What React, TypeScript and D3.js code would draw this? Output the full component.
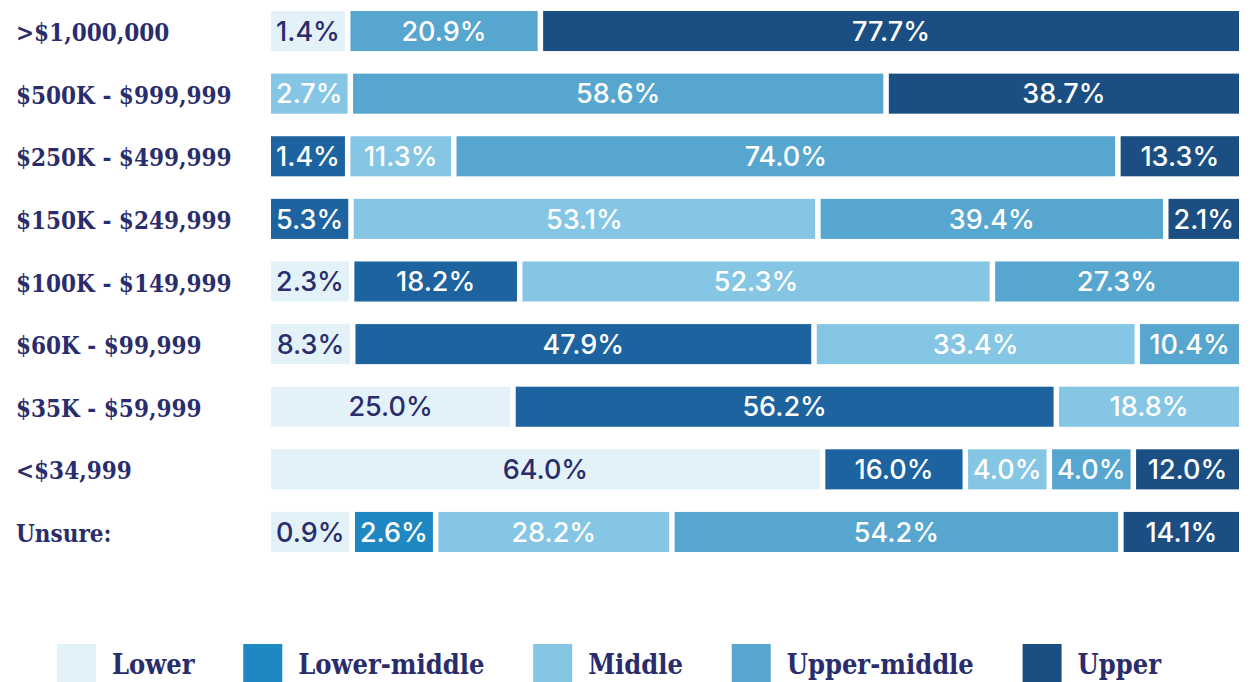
import { useEffect, useRef } from 'react'
import * as d3 from 'd3'

const CATEGORIES = [
  '>$1,000,000',
  '$500K - $999,999',
  '$250K - $499,999',
  '$150K - $249,999',
  '$100K - $149,999',
  '$60K - $99,999',
  '$35K - $59,999',
  '<$34,999',
  'Unsure:',
]

const SERIES = ['Lower', 'Lower-middle', 'Middle', 'Upper-middle', 'Upper']

const LOWER = [1.4, 0, 0, 0, 2.3, 8.3, 25.0, 64.0, 0.9]
const LOWER_MIDDLE = [0, 0, 1.4, 5.3, 18.2, 47.9, 56.2, 16.0, 2.6]
const MIDDLE = [0, 2.7, 11.3, 53.1, 52.3, 33.4, 18.8, 4.0, 28.2]
const UPPER_MIDDLE = [20.9, 58.6, 74.0, 39.4, 27.3, 10.4, 0, 4.0, 54.2]
const UPPER = [77.7, 38.7, 13.3, 2.1, 0, 0, 0, 12.0, 14.1]

const VALUES = [LOWER, LOWER_MIDDLE, MIDDLE, UPPER_MIDDLE, UPPER]

const BAR_COLORS = ['#e3f2f9', '#1c63a0', '#86c6e5', '#56a6cf', '#1b4f83']
const SWATCH_COLORS = ['#e3f2f9', '#1e88c2', '#86c6e5', '#56a6cf', '#1b4f83']
// this row was drawn with the legend's lighter lower-middle
const SWATCH_ROWS = ['Unsure:']

const NAVY = '#2a2d6c'
const SERIF = "'DejaVu Serif Condensed', 'DejaVu Serif', serif"
const SANS = "Inter, 'Open Sans', sans-serif"

export default function App() {
  const ref = useRef<SVGSVGElement>(null)

  useEffect(() => {
    if (!ref.current) return
    document.body.style.margin = '0'
    const svg = d3.select(ref.current)
    svg.selectAll('*').remove()

    const x = d3.scaleLinear().domain([0, 100]).range([271, 1239])
    const y = d3.scaleBand().domain(CATEGORIES).range([11, 552]).paddingInner(0.36)
    const gap = 5.5
    const pad = 5
    const fontSize = 27

    CATEGORIES.forEach((cat, i) => {
      const top = y(cat) ?? 0
      const mid = top + y.bandwidth() / 2
      const colors = SWATCH_ROWS.includes(cat) ? SWATCH_COLORS : BAR_COLORS

      svg
        .append('text')
        .attr('x', 16)
        .attr('y', mid + 10)
        .attr('fill', NAVY)
        .attr('font-family', SERIF)
        .attr('font-stretch', 'condensed')
        .attr('font-weight', 700)
        .attr('font-size', 24)
        .text(cat)

      const segs = VALUES.map((vals, j) => ({ j, v: vals[i] })).filter((d) => d.v > 0)
      const g = svg.append('g')

      const labels = g
        .selectAll('text')
        .data(segs)
        .join('text')
        .attr('text-anchor', 'middle')
        .attr('y', mid + fontSize * 0.36)
        .attr('fill', (d) => (d.j === 0 ? NAVY : '#ffffff'))
        .attr('font-family', SANS)
        .attr('font-weight', 500)
        .attr('font-size', fontSize)
        .text((d) => `${d.v.toFixed(1)}%`)

      // small shares get at least room for their label, the rest share what is left
      const mins = (labels.nodes() as SVGTextElement[]).map((n) => n.getComputedTextLength() + pad * 2)
      const avail = x(100) - x(0) - gap * (segs.length - 1)
      const fixed = segs.map(() => false)
      let rowScale = d3.scaleLinear().domain([0, 100]).range([0, avail])
      for (let it = 0; it < segs.length; it++) {
        const freeSum = d3.sum(segs, (d, k) => (fixed[k] ? 0 : d.v))
        const fixedW = d3.sum(mins, (m, k) => (fixed[k] ? m : 0))
        rowScale = d3.scaleLinear().domain([0, freeSum]).range([0, avail - fixedW])
        let changed = false
        segs.forEach((d, k) => {
          if (!fixed[k] && rowScale(d.v) < mins[k]) {
            fixed[k] = true
            changed = true
          }
        })
        if (!changed) break
      }
      const widths = segs.map((d, k) => (fixed[k] ? mins[k] : rowScale(d.v)))
      let cursor = x(0)
      const lefts = widths.map((w) => {
        const l = cursor
        cursor += w + gap
        return l
      })

      g.selectAll('rect')
        .data(segs)
        .join((enter) => enter.insert('rect', 'text'))
        .attr('x', (_, k) => lefts[k])
        .attr('y', top)
        .attr('width', (_, k) => widths[k])
        .attr('height', y.bandwidth())
        .attr('fill', (d) => colors[d.j])

      labels.attr('x', (_, k) => lefts[k] + widths[k] / 2)
    })

    // legend, spread between the first swatch and the end of the last label
    const legend = svg.append('g')
    const sw = 39
    const swTop = 644
    const items = SERIES.map((s, j) => {
      const item = legend.append('g')
      item
        .append('rect')
        .attr('width', sw)
        .attr('height', sw)
        .attr('y', swTop)
        .attr('fill', SWATCH_COLORS[j])
      const t = item
        .append('text')
        .attr('x', sw + 16)
        .attr('y', swTop + 30)
        .attr('fill', NAVY)
        .attr('font-family', SERIF)
        .attr('font-stretch', 'condensed')
        .attr('font-weight', 700)
        .attr('font-size', 27)
        .text(s)
      return { item, w: sw + 16 + (t.node() as SVGTextElement).getComputedTextLength() }
    })
    const legendLeft = 57
    const legendRight = 1161
    const legendGap = (legendRight - legendLeft - d3.sum(items, (d) => d.w)) / (items.length - 1)
    let lx = legendLeft
    items.forEach((d) => {
      d.item.attr('transform', `translate(${lx},0)`)
      lx += d.w + legendGap
    })
  }, [])

  return <svg ref={ref} width={1260} height={682} style={{ display: 'block' }} />
}
